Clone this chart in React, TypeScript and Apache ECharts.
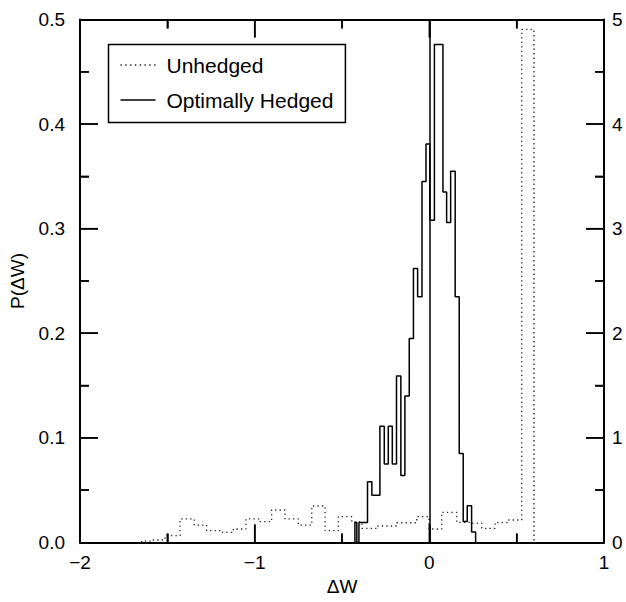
import React, { useEffect, useRef } from "react";
import * as echarts from "echarts";

// Optimally hedged histogram: bin edges and probabilities (left axis)
const hedgedEdges = [
  -0.426, -0.415, -0.403, -0.354, -0.329, -0.283, -0.258, -0.235, -0.212, -0.188,
  -0.163, -0.14, -0.115, -0.091, -0.067, -0.042, -0.019, 0.003, 0.029, 0.078,
  0.099, 0.122, 0.148, 0.171, 0.194, 0.217, 0.242, 0.265,
];
const hedgedP = [
  0.019, 0, 0.019, 0.058, 0.045, 0.111, 0.075, 0.111, 0.075, 0.159,
  0.064, 0.14, 0.195, 0.262, 0.235, 0.345, 0.381, 0.308, 0.476, 0.335,
  0.306, 0.355, 0.235, 0.085, 0.02, 0.035, 0.01,
];

// Unhedged histogram: bin edges and probabilities
const unhedgedEdges = [
  -1.647, -1.582, -1.513, -1.427, -1.346, -1.275, -1.198, -1.122, -1.05, -0.97,
  -0.903, -0.826, -0.75, -0.673, -0.597, -0.521, -0.444, -0.386, -0.294, -0.187,
  -0.072, -0.002, 0.071, 0.157, 0.233, 0.3, 0.376, 0.45, 0.529, 0.599,
];
const unhedgedP = [
  0.0013, 0.0023, 0.0064, 0.0224, 0.0166, 0.0112, 0.0096, 0.0128, 0.0224, 0.0198,
  0.031, 0.0224, 0.0166, 0.0348, 0.0112, 0.0246, 0.0195, 0.0135, 0.0157, 0.0188,
  0.0246, 0.0128, 0.0288, 0.0192, 0.0185, 0.0135, 0.019, 0.0214, 0.4905,
];

const seriesNames = ["Unhedged", "Optimally Hedged"];

// tick positions of the frame (major and minor), in data units
const xMajorTicks = [-1, 0];
const xMinorTicks = [-1.5, -0.5, 0.5];
const yMajorTicks = [0.1, 0.2, 0.3, 0.4];
const yMinorTicks = [0.05, 0.15, 0.25, 0.35, 0.45];

const X_MIN = -2;
const X_MAX = 1;
const Y_MIN = 0;
const Y_MAX = 0.5;

const FONT = "'Liberation Sans', Arial, Helvetica, sans-serif";
const DOT = [1.3, 3.2];
const DOT_ICON =
  "path://M0,0h1.3v1.3h-1.3z M4.5,0h1.3v1.3h-1.3z M9,0h1.3v1.3h-1.3z M13.5,0h1.3v1.3h-1.3z " +
  "M18,0h1.3v1.3h-1.3z M22.5,0h1.3v1.3h-1.3z M27,0h1.3v1.3h-1.3z M31.5,0h1.3v1.3h-1.3z";
const SOLID_ICON = "path://M0,0h35v1.5h-35z";

function stepPoints(edges: number[], vals: number[]): number[][] {
  const pts: number[][] = [[edges[0], 0]];
  for (let i = 0; i < vals.length; i++) {
    pts.push([edges[i], vals[i]]);
    pts.push([edges[i + 1], vals[i]]);
  }
  pts.push([edges[edges.length - 1], 0]);
  return pts;
}

// tick items: [value, side (0 bottom, 1 top, 2 left, 3 right), major flag]
function tickItems(): number[][] {
  const items: number[][] = [];
  for (const side of [0, 1]) {
    xMajorTicks.forEach((v) => items.push([v, side, 1]));
    xMinorTicks.forEach((v) => items.push([v, side, 0]));
  }
  for (const side of [2, 3]) {
    yMajorTicks.forEach((v) => items.push([v, side, 1]));
    yMinorTicks.forEach((v) => items.push([v, side, 0]));
  }
  return items;
}

function axisBase(min: number, max: number, interval: number) {
  return {
    type: "value",
    min,
    max,
    interval,
    axisLine: { show: true, onZero: false, lineStyle: { color: "#000", width: 2 } },
    axisTick: { show: true, inside: true, length: 18, lineStyle: { color: "#000", width: 1.5 } },
    minorTick: { show: true, splitNumber: 2, length: 9, lineStyle: { color: "#000", width: 1.5 } },
    splitLine: { show: false },
  };
}

function labelStyle() {
  return { color: "#000", fontSize: 19, fontFamily: FONT };
}

export default function App() {
  const ref = useRef<HTMLDivElement>(null);
  useEffect(() => {
    if (!ref.current) return;
    const chart = echarts.init(ref.current, undefined, { renderer: "svg" });
    chart.setOption({
      animation: false,
      grid: { left: 80, right: 22, top: 19.5, bottom: 59.6 },
      legend: {
        orient: "vertical",
        left: 108.5,
        top: 44.5,
        padding: [10, 12, 12, 12],
        itemWidth: 35,
        itemHeight: 1.5,
        itemGap: 14,
        borderColor: "#000",
        borderWidth: 1.5,
        backgroundColor: "#fff",
        textStyle: { fontSize: 21, color: "#000", fontFamily: FONT, padding: [0, 0, 0, 6] },
        data: [
          { name: seriesNames[0], icon: DOT_ICON },
          { name: seriesNames[1], icon: SOLID_ICON },
        ],
      },
      xAxis: [
        {
          ...axisBase(X_MIN, X_MAX, 1),
          position: "bottom",
          axisLabel: { ...labelStyle(), margin: 11, formatter: (v: number) => String(v).replace("-", "\u2212") },
          name: "\u0394W",
          nameLocation: "middle",
          nameGap: 27,
          nameTextStyle: labelStyle(),
        },
        {
          ...axisBase(X_MIN, X_MAX, 1),
          position: "top",
          axisLabel: { show: false },
        },
      ],
      yAxis: [
        {
          ...axisBase(Y_MIN, Y_MAX, 0.1),
          position: "left",
          axisLabel: { ...labelStyle(), margin: 15, formatter: (v: number) => v.toFixed(1) },
          name: "P(\u0394W)",
          nameLocation: "middle",
          nameGap: 53,
          nameRotate: 90,
          nameTextStyle: labelStyle(),
        },
        {
          ...axisBase(0, 5, 1),
          position: "right",
          axisLabel: { ...labelStyle(), margin: 8, formatter: (v: number) => String(v) },
        },
      ],
      series: [
        {
          name: seriesNames[0],
          type: "line",
          xAxisIndex: 0,
          yAxisIndex: 0,
          symbol: "none",
          color: "#222",
          itemStyle: { color: "#222" },
          lineStyle: { color: "#222", width: 1.3, type: DOT },
          data: stepPoints(unhedgedEdges, unhedgedP),
          z: 2,
        },
        {
          name: seriesNames[1],
          type: "line",
          xAxisIndex: 0,
          yAxisIndex: 0,
          symbol: "none",
          color: "#000",
          itemStyle: { color: "#000" },
          lineStyle: { color: "#000", width: 1.5 },
          data: stepPoints(hedgedEdges, hedgedP),
          markLine: {
            silent: true,
            symbol: "none",
            label: { show: false },
            lineStyle: { color: "#000", width: 1.5, type: "solid" },
            data: [{ xAxis: 0 }],
          },
          z: 3,
        },
        {
          name: "frame ticks",
          type: "custom",
          xAxisIndex: 0,
          yAxisIndex: 0,
          silent: true,
          clip: false,
          z: 4,
          encode: { x: 0, y: 0 },
          data: tickItems(),
          renderItem: (params: any, api: any) => {
            const v = api.value(0);
            const side = api.value(1);
            const len = api.value(2) ? 18 : 9;
            let x1 = 0, y1 = 0, x2 = 0, y2 = 0;
            if (side === 0) {
              const p = api.coord([v, Y_MIN]);
              x1 = x2 = p[0]; y1 = p[1]; y2 = p[1] - len;
            } else if (side === 1) {
              const p = api.coord([v, Y_MAX]);
              x1 = x2 = p[0]; y1 = p[1]; y2 = p[1] + len;
            } else if (side === 2) {
              const p = api.coord([X_MIN, v]);
              y1 = y2 = p[1]; x1 = p[0]; x2 = p[0] + len;
            } else {
              const p = api.coord([X_MAX, v]);
              y1 = y2 = p[1]; x1 = p[0]; x2 = p[0] - len;
            }
            return {
              type: "line",
              shape: { x1, y1, x2, y2 },
              style: { stroke: "#000", lineWidth: 1.5 },
            };
          },
        },
      ],
    });
    return () => chart.dispose();
  }, []);
  return (
    <div
      ref={ref}
      style={{ position: "fixed", left: 0, top: 0, width: 626, height: 602, background: "#fff" }}
    />
  );
}
